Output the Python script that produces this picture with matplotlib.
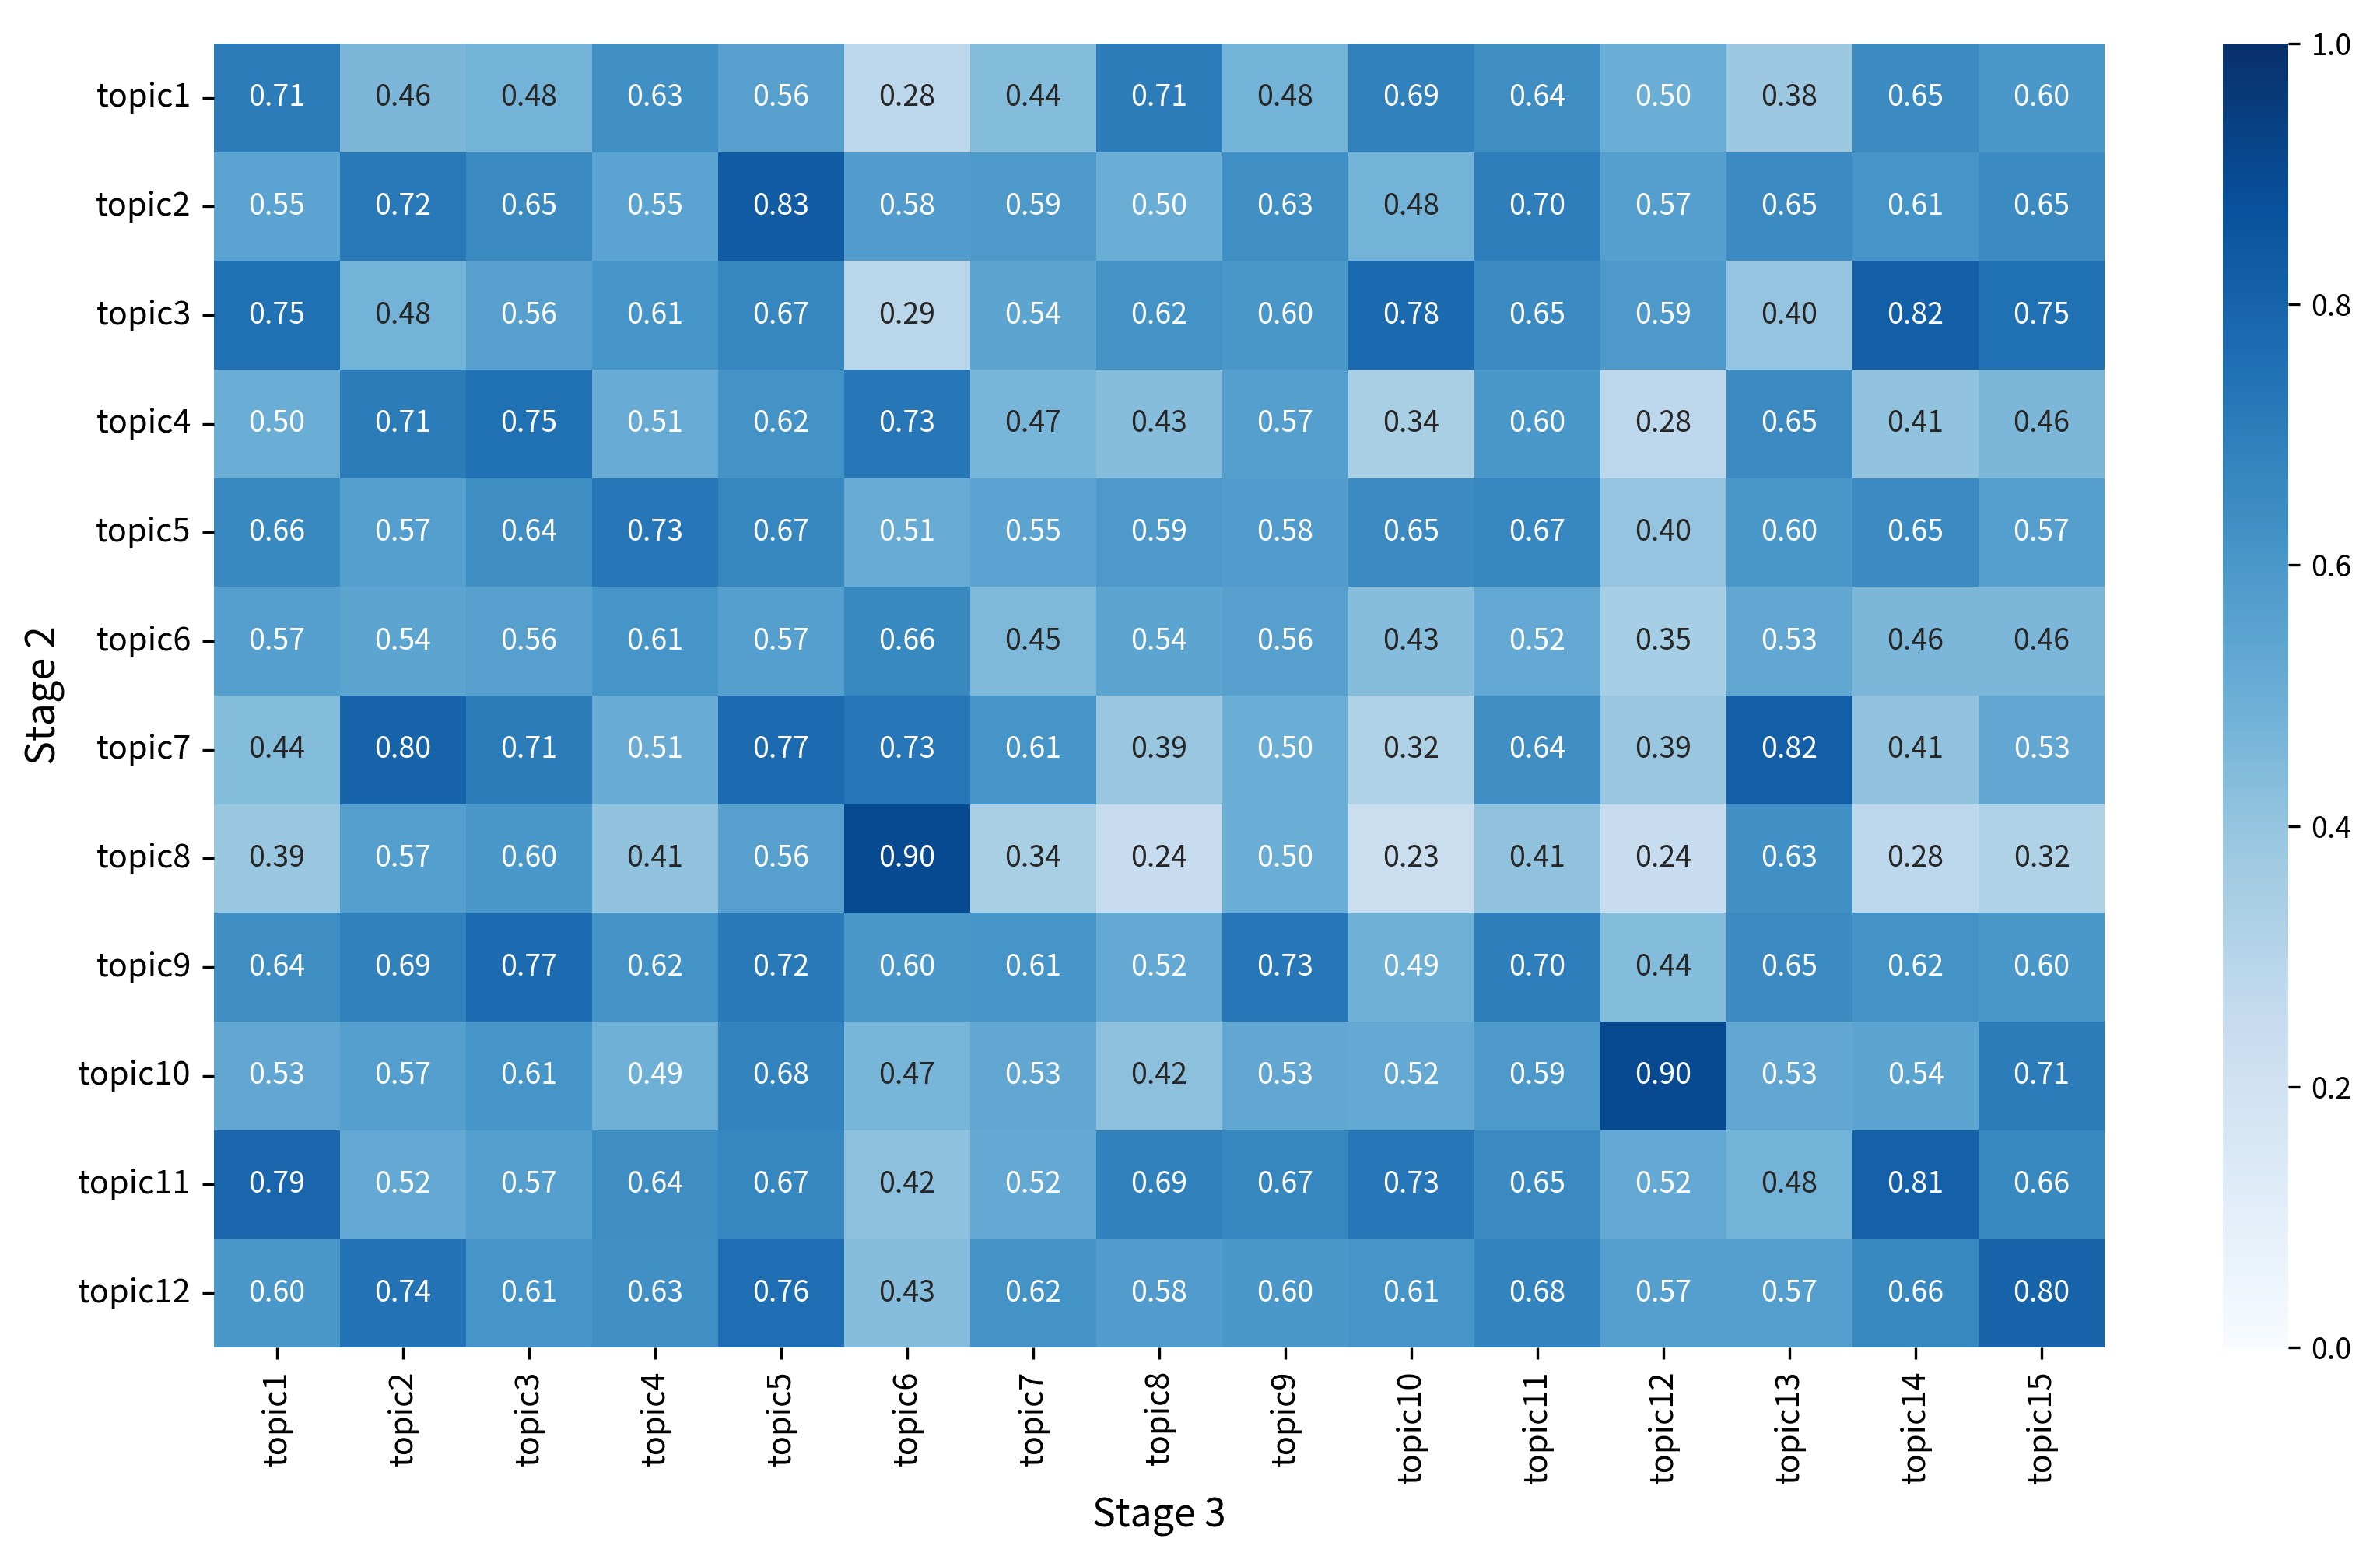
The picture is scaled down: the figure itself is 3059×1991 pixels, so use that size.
import numpy as np
import matplotlib
matplotlib.use("Agg")
import matplotlib.pyplot as plt
import seaborn as sns

rows = [f"topic{i}" for i in range(1, 13)]
cols = [f"topic{i}" for i in range(1, 16)]

topic1 = [0.71, 0.46, 0.48, 0.63, 0.56, 0.28, 0.44, 0.71, 0.48, 0.69, 0.64, 0.50, 0.38, 0.65, 0.60]
topic2 = [0.55, 0.72, 0.65, 0.55, 0.83, 0.58, 0.59, 0.50, 0.63, 0.48, 0.70, 0.57, 0.65, 0.61, 0.65]
topic3 = [0.75, 0.48, 0.56, 0.61, 0.67, 0.29, 0.54, 0.62, 0.60, 0.78, 0.65, 0.59, 0.40, 0.82, 0.75]
topic4 = [0.50, 0.71, 0.75, 0.51, 0.62, 0.73, 0.47, 0.43, 0.57, 0.34, 0.60, 0.28, 0.65, 0.41, 0.46]
topic5 = [0.66, 0.57, 0.64, 0.73, 0.67, 0.51, 0.55, 0.59, 0.58, 0.65, 0.67, 0.40, 0.60, 0.65, 0.57]
topic6 = [0.57, 0.54, 0.56, 0.61, 0.57, 0.66, 0.45, 0.54, 0.56, 0.43, 0.52, 0.35, 0.53, 0.46, 0.46]
topic7 = [0.44, 0.80, 0.71, 0.51, 0.77, 0.73, 0.61, 0.39, 0.50, 0.32, 0.64, 0.39, 0.82, 0.41, 0.53]
topic8 = [0.39, 0.57, 0.60, 0.41, 0.56, 0.90, 0.34, 0.24, 0.50, 0.23, 0.41, 0.24, 0.63, 0.28, 0.32]
topic9 = [0.64, 0.69, 0.77, 0.62, 0.72, 0.60, 0.61, 0.52, 0.73, 0.49, 0.70, 0.44, 0.65, 0.62, 0.60]
topic10 = [0.53, 0.57, 0.61, 0.49, 0.68, 0.47, 0.53, 0.42, 0.53, 0.52, 0.59, 0.90, 0.53, 0.54, 0.71]
topic11 = [0.79, 0.52, 0.57, 0.64, 0.67, 0.42, 0.52, 0.69, 0.67, 0.73, 0.65, 0.52, 0.48, 0.81, 0.66]
topic12 = [0.60, 0.74, 0.61, 0.63, 0.76, 0.43, 0.62, 0.58, 0.60, 0.61, 0.68, 0.57, 0.57, 0.66, 0.80]

data = np.array([topic1, topic2, topic3, topic4, topic5, topic6, topic7, topic8,
                 topic9, topic10, topic11, topic12])

# cells whose annotation is drawn dark in the original although rounding to the same 0.48
dark_text_cells = [(0, 2), (2, 1), (10, 12)]

plt.rcParams['font.family'] = ['Noto Sans CJK SC', 'DejaVu Sans']

fig = plt.figure(figsize=(3059 / 300, 1991 / 300), dpi=300)
ax = fig.add_axes([0.0899, 0.1301, 0.7944, 0.8418])
cax = fig.add_axes([0.934, 0.1301, 0.0275, 0.8418])

sns.heatmap(data, ax=ax, cbar_ax=cax, cmap="Blues", vmin=0, vmax=1,
            annot=True, fmt=".2f", annot_kws={"fontsize": 9},
            xticklabels=cols, yticklabels=rows)

ncols = data.shape[1]
for (r, c) in dark_text_cells:
    ax.texts[r * ncols + c].set_color("#262626")

ax.set_xlabel("Stage 3", fontsize=12)
ax.set_ylabel("Stage 2", fontsize=12.5)
ax.tick_params(axis='both', labelsize=10)
plt.setp(ax.get_xticklabels(), rotation=90)
plt.setp(ax.get_yticklabels(), rotation=0)
cax.tick_params(labelsize=9)

fig.savefig("out.png", dpi=300)
